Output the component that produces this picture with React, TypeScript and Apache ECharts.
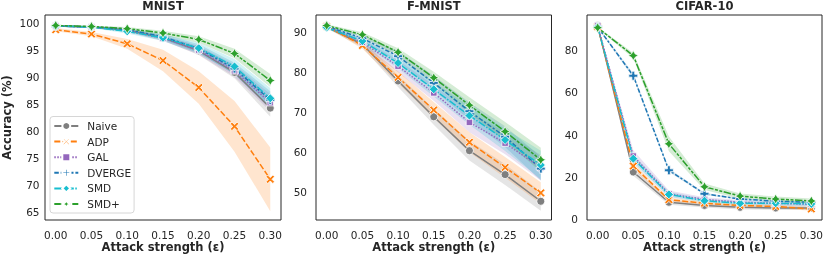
import React, { useEffect, useRef } from 'react';
import * as echarts from 'echarts';

const EPS = [0, 0.05, 0.1, 0.15, 0.2, 0.25, 0.3];
const METHODS = ['Naive', 'ADP', 'GAL', 'DVERGE', 'SMD', 'SMD+'];
const COLORS = ['#7f7f7f', '#ff7f0e', '#9467bd', '#1f77b4', '#17becf', '#2ca02c'];

// rows follow METHODS order
const MNIST_MEAN = [
  [99.4, 99.2, 98.6, 97.2, 94.8, 90.8, 84.2],
  [98.7, 97.9, 96.1, 93.0, 88.0, 80.8, 71.0],
  [99.4, 99.2, 98.6, 97.1, 94.9, 91.1, 85.2],
  [99.4, 99.2, 98.7, 97.4, 95.2, 91.5, 85.7],
  [99.4, 99.2, 98.4, 97.2, 95.3, 91.9, 86.0],
  [99.5, 99.3, 98.9, 98.1, 96.9, 94.3, 89.3],
];
const MNIST_SD = [
  [0.15, 0.2, 0.3, 0.5, 0.8, 1.1, 1.6],
  [0.3, 0.4, 0.9, 2.0, 3.0, 4.7, 5.9],
  [0.15, 0.2, 0.3, 0.5, 0.8, 1.1, 1.6],
  [0.15, 0.2, 0.3, 0.5, 0.8, 1.1, 1.6],
  [0.15, 0.2, 0.4, 0.6, 1.0, 1.4, 1.9],
  [0.1, 0.15, 0.3, 0.4, 0.6, 0.9, 1.2],
];
const FMNIST_MEAN = [
  [91.3, 87.0, 77.8, 68.8, 60.3, 54.3, 47.6],
  [91.5, 86.7, 78.7, 70.5, 62.4, 56.1, 49.7],
  [91.5, 87.5, 81.5, 74.8, 67.4, 62.2, 56.0],
  [91.5, 88.5, 84.0, 77.3, 70.2, 63.8, 55.8],
  [91.2, 87.8, 82.3, 75.7, 69.1, 63.0, 56.7],
  [91.7, 89.4, 85.0, 78.6, 71.7, 65.1, 58.0],
];
const FMNIST_SD = [
  [0.3, 0.8, 1.5, 2.0, 2.5, 2.6, 2.4],
  [0.3, 0.8, 1.5, 2.0, 2.5, 2.6, 2.7],
  [0.3, 0.8, 1.5, 2.0, 2.5, 2.8, 3.2],
  [0.3, 0.8, 1.3, 1.8, 2.2, 2.6, 3.0],
  [0.3, 0.8, 1.3, 1.8, 2.3, 2.8, 3.6],
  [0.3, 0.6, 1.0, 1.5, 2.0, 2.4, 3.0],
];
const CIFAR_MEAN = [
  [91.5, 22.3, 8.0, 6.5, 5.6, 5.3, 5.3],
  [91.0, 25.1, 9.2, 7.5, 6.5, 6.0, 4.8],
  [91.5, 29.8, 12.0, 9.3, 8.0, 7.5, 7.0],
  [90.8, 67.8, 23.1, 12.0, 9.5, 8.5, 8.0],
  [90.8, 28.6, 11.7, 8.7, 7.5, 7.5, 7.2],
  [90.5, 77.3, 35.6, 15.3, 10.9, 9.5, 8.6],
];
const CIFAR_SD = [
  [0.4, 1.8, 1.2, 1.0, 1.0, 1.0, 1.0],
  [0.4, 1.5, 1.0, 0.8, 0.8, 0.8, 0.8],
  [0.4, 2.8, 1.5, 1.0, 1.0, 1.0, 1.0],
  [0.4, 1.0, 0.8, 0.5, 0.5, 0.5, 0.5],
  [0.4, 2.0, 1.2, 1.0, 1.0, 1.0, 1.0],
  [0.4, 1.2, 3.5, 1.5, 1.2, 1.2, 1.2],
];

const TITLES = ['MNIST', 'F-MNIST', 'CIFAR-10'];
const MNIST_TICKS = [65, 70, 75, 80, 85, 90, 95, 100];
const FMNIST_TICKS = [50, 60, 70, 80, 90];
const CIFAR_TICKS = [0, 20, 40, 60, 80];
const X_LABEL = 'Attack strength (ε)';
const Y_LABEL = 'Accuracy (%)';

const FONT = 'DejaVu Sans';
const INK = '#262626';

const SYMBOLS = [
  'circle',
  'path://M2,0 L5,3 L8,0 L10,2 L7,5 L10,8 L8,10 L5,7 L2,10 L0,8 L3,5 L0,2 Z',
  'rect',
  'path://M3.4,0 L6.6,0 L6.6,3.4 L10,3.4 L10,6.6 L6.6,6.6 L6.6,10 L3.4,10 L3.4,6.6 L0,6.6 L0,3.4 L3.4,3.4 Z',
  'diamond',
  'path://M5,0 L6.77,3.23 L10,5 L6.77,6.77 L5,10 L3.23,6.77 L0,5 L3.23,3.23 Z',
];
const SYMBOL_SIZES = [8, 8.5, 6.5, 9, 9, 10];
const DASHES: any[] = ['solid', [6, 2.25], [1.5, 1.5], [4.5, 1.9, 2.25, 1.9], [7.5, 1.5, 1.5, 1.5], [7.5, 1.5, 3, 1.5, 3, 1.5]];

function rgba(hex: string, a: number) {
  const n = parseInt(hex.slice(1), 16);
  return `rgba(${(n >> 16) & 255},${(n >> 8) & 255},${n & 255},${a})`;
}

export default function App() {
  const ref = useRef<HTMLDivElement>(null);
  useEffect(() => {
    if (!ref.current) return;
    const chart = echarts.init(ref.current, undefined, { renderer: 'svg' });
    const panels = [
      { mean: MNIST_MEAN, sd: MNIST_SD, ticks: MNIST_TICKS, min: 63.46, max: 101.43, left: 45, width: 236, margin: 5.5 },
      { mean: FMNIST_MEAN, sd: FMNIST_SD, ticks: FMNIST_TICKS, min: 42.9, max: 94.34, left: 316, width: 235.5, margin: 9 },
      { mean: CIFAR_MEAN, sd: CIFAR_SD, ticks: CIFAR_TICKS, min: -0.4, max: 96.5, left: 587, width: 235, margin: 9 },
    ];
    const series: any[] = [];
    panels.forEach((p, pi) => {
      METHODS.forEach((name, mi) => {
        const mean = p.mean[mi];
        const sd = p.sd[mi];
        series.push({
          type: 'custom',
          name: `${name}-band-${pi}`,
          xAxisIndex: pi,
          yAxisIndex: pi,
          silent: true,
          data: EPS.map((x, i) => [x, mean[i]]),
          renderItem: (params: any, api: any) => {
            if (params.dataIndex !== 0) return null;
            const up = EPS.map((x, i) => api.coord([x, mean[i] + sd[i]]));
            const lo = EPS.map((x, i) => api.coord([x, mean[i] - sd[i]])).reverse();
            return {
              type: 'polygon',
              shape: { points: up.concat(lo) },
              style: { fill: rgba(COLORS[mi], 0.2), stroke: 'none' },
            };
          },
        });
        series.push({
          type: 'line',
          name,
          xAxisIndex: pi,
          yAxisIndex: pi,
          data: EPS.map((x, i) => [x, mean[i]]),
          symbol: SYMBOLS[mi],
          symbolSize: SYMBOL_SIZES[mi],
          showSymbol: true,
          lineStyle: { color: COLORS[mi], width: 1.5, type: DASHES[mi] },
          itemStyle: { color: COLORS[mi], borderColor: '#ffffff', borderWidth: 0.8 },
          emphasis: { disabled: true },
        });
      });
    });
    const option: any = {
      animation: false,
      textStyle: { fontFamily: FONT },
      title: panels.map((p, pi) => ({
        text: TITLES[pi],
        left: p.left + p.width / 2,
        top: 0,
        textAlign: 'center',
        padding: 0,
        textStyle: { fontFamily: FONT, fontSize: 11.5, fontWeight: 'bold', color: INK },
      })),
      grid: panels.map((p) => ({
        left: p.left,
        top: 15,
        width: p.width,
        height: 205,
        show: true,
        borderColor: INK,
        borderWidth: 1,
        backgroundColor: 'transparent',
        containLabel: false,
        outerBoundsMode: 'none',
      })),
      xAxis: panels.map((p, pi) => ({
        type: 'value',
        gridIndex: pi,
        min: -0.015,
        max: 0.315,
        name: X_LABEL,
        nameLocation: 'middle',
        nameGap: 21,
        nameMoveOverlap: false,
        nameTextStyle: { fontFamily: FONT, fontSize: 11.5, fontWeight: 'bold', color: INK },
        axisLine: { show: false },
        axisTick: { show: false, customValues: EPS },
        splitLine: { show: false },
        axisLabel: {
          customValues: EPS,
          formatter: (v: number) => v.toFixed(2),
          fontFamily: FONT,
          fontSize: 10.5,
          color: INK,
          margin: 9,
        },
      })),
      yAxis: panels.map((p, pi) => ({
        type: 'value',
        gridIndex: pi,
        min: p.min,
        max: p.max,
        name: pi === 0 ? Y_LABEL : '',
        nameLocation: 'middle',
        nameGap: 32,
        nameTextStyle: { fontFamily: FONT, fontSize: 11.5, fontWeight: 'bold', color: INK },
        axisLine: { show: false },
        axisTick: { show: false, customValues: p.ticks },
        splitLine: { show: false },
        axisLabel: {
          customValues: p.ticks,
          fontFamily: FONT,
          fontSize: 10.5,
          color: INK,
          margin: p.margin,
        },
      })),
      legend: {
        data: METHODS,
        orient: 'vertical',
        left: 50,
        top: 116.5,
        itemWidth: 24,
        itemHeight: 10,
        itemGap: 3.6,
        selectedMode: false,
        padding: [3.5, 3, 3, 3.3],
        borderColor: '#d6d6d6',
        borderWidth: 1,
        borderRadius: 3,
        backgroundColor: 'rgba(255,255,255,0.8)',
        textStyle: { fontFamily: FONT, fontSize: 10.5, color: INK, lineHeight: 12, padding: [0, 0, 0, 4] },
      },
      series,
    };
    chart.setOption(option);
    return () => chart.dispose();
  }, []);
  return <div ref={ref} style={{ position: 'fixed', left: 0, top: 0, width: 824, height: 256 }} />;
}
